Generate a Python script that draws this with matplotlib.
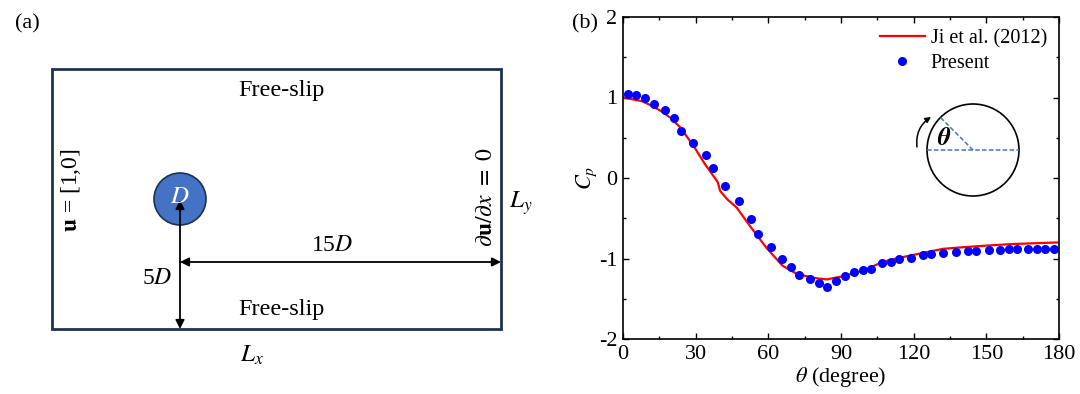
import numpy as np
import matplotlib
matplotlib.use('Agg')
import matplotlib.pyplot as plt
from matplotlib.patches import Rectangle, Circle, FancyArrowPatch

plt.rcParams['font.family'] = ['Liberation Serif', 'DejaVu Serif']
plt.rcParams['mathtext.fontset'] = 'stix'

# Ji et al. (2012) reference curve
ji_theta = [0, 7.8, 11.7, 15.8, 19.5, 23.6, 29.1, 33.9, 39.1, 40.1, 42.9, 47.0,
            52.5, 59.3, 65.9, 71.7, 78.6, 84.1, 90.9, 99.2, 107.4, 114.3, 123.9,
            132.1, 140.4, 150.0, 161.0, 180.0]
ji_cp = [1.00, 0.955, 0.90, 0.83, 0.75, 0.63, 0.40, 0.17, -0.05, -0.16, -0.26, -0.37,
         -0.60, -0.87, -1.09, -1.19, -1.24, -1.26, -1.22, -1.15, -1.04, -0.99, -0.93,
         -0.88, -0.86, -0.84, -0.82, -0.80]

# present simulation
pr_theta = [1.9, 5.5, 9.2, 12.8, 17.3, 20.9, 24.0, 29.1, 34.2, 37.2, 42.3, 47.7,
            52.7, 55.8, 61.0, 65.8, 69.2, 72.5, 77.2, 80.8, 84.3, 88.0, 91.8, 95.5,
            99.0, 102.5, 107.1, 110.7, 114.0, 119.0, 124.0, 127.2, 132.3, 137.6,
            142.6, 145.8, 151.0, 155.7, 159.2, 162.6, 167.3, 170.9, 174.3, 178.0]
pr_cp = [1.047, 1.03, 0.99, 0.92, 0.84, 0.74, 0.59, 0.44, 0.28, 0.13, -0.10, -0.28,
         -0.51, -0.70, -0.86, -1.00, -1.10, -1.20, -1.26, -1.30, -1.35, -1.28, -1.22,
         -1.17, -1.14, -1.13, -1.06, -1.04, -1.01, -0.99, -0.96, -0.95, -0.93, -0.92,
         -0.91, -0.91, -0.89, -0.90, -0.88, -0.88, -0.88, -0.88, -0.88, -0.88]

fig = plt.figure(figsize=(10.8, 3.94), dpi=100)

# ---- panel (b): pressure coefficient ----
ax = fig.add_axes([623 / 1080, 55 / 394, 436 / 1080, 322 / 394])
ax.plot(ji_theta, ji_cp, '-', color='#ff0000', lw=1.6, label='Ji et al. (2012)')
ax.plot(pr_theta, pr_cp, 'o', color='#0000ff', ms=6.5, mec='none', label='Present')
ax.set_xlim(0, 180)
ax.set_ylim(-2, 2)
ax.set_xticks(np.arange(0, 181, 30))
ax.set_xticks(np.arange(0, 181, 15), minor=True)
ax.set_yticks([-2, -1, 0, 1, 2])
ax.set_yticks(np.arange(-2, 2.01, 0.5), minor=True)
ax.set_yticklabels(['-2', '-1', '0', '1', '2'])
ax.tick_params(which='both', direction='in', top=True, right=True, labelsize=16, width=1)
ax.tick_params(which='major', length=4, pad=4)
ax.tick_params(which='minor', length=2.5)
for s in ax.spines.values():
    s.set_linewidth(1.2)
ax.set_xlabel(r'$\theta$ (degree)', fontsize=16, labelpad=1)
ax.set_ylabel(r'$C_p$', fontsize=16)
ax.yaxis.set_label_coords(-0.055, 0.5)
ax.legend(loc='upper right', frameon=False, fontsize=14.5, handlelength=2.2,
          handletextpad=0.3, borderaxespad=0.2, labelspacing=0.3)

# ---- overlay in pixel coordinates: panel (a) sketch and inset ----
ov = fig.add_axes([0, 0, 1, 1], zorder=5)
ov.set_xlim(0, 1080)
ov.set_ylim(394, 0)
ov.axis('off')
ov.patch.set_alpha(0)

ov.text(27, 24, '(a)', fontsize=16, ha='center', va='center')
ov.text(585, 24, '(b)', fontsize=16, ha='center', va='center')

ov.add_patch(Rectangle((52, 69), 449, 260, fill=False, ec='#1f3050', lw=2))
ov.add_patch(Circle((180, 199), 26, fc='#4472c4', ec='#1f3050', lw=1.2))
ov.text(180, 197, '$D$', color='white', fontsize=18, ha='center', va='center')

arr = dict(arrowstyle='-|>', mutation_scale=13, color='black', lw=1.3,
           shrinkA=0, shrinkB=0)
ov.add_patch(FancyArrowPatch((180, 262), (180, 329), **arr))
ov.add_patch(FancyArrowPatch((180, 262), (180, 200), **arr))
ov.add_patch(FancyArrowPatch((180, 262), (501, 262),
                             arrowstyle='<|-|>', mutation_scale=13, color='black',
                             lw=1.3, shrinkA=0, shrinkB=0))

ov.text(281, 90, 'Free-slip', fontsize=17.5, ha='center', va='center')
ov.text(281, 310, 'Free-slip', fontsize=17.5, ha='center', va='center')
ov.text(332, 245, '15$D$', fontsize=17, ha='center', va='center')
ov.text(157, 278, '5$D$', fontsize=17, ha='center', va='center')
ov.text(71, 190, r'$\mathbf{u}$ = [1,0]', fontsize=17, rotation=90, ha='center', va='center')
ov.text(487, 197, r'$\partial\mathbf{u}/\partial x\ =\ 0$', fontsize=17, rotation=90,
        ha='center', va='center')
ov.text(521, 203, '$L_y$', fontsize=18, ha='center', va='center')
ov.text(252, 355, '$L_x$', fontsize=18, ha='center', va='center')

# inset sketch of the cylinder angle
cx, cy, r = 973, 150, 46
ov.add_patch(Circle((cx, cy), r, fill=False, ec='black', lw=1.2))
dash = dict(color='#4472c4', lw=1.1, ls=(0, (3, 1.5)))
ov.plot([cx - r, cx + r], [cy, cy], **dash)
ang = np.deg2rad(135)
ov.plot([cx, cx + r * np.cos(ang)], [cy, cy - r * np.sin(ang)], **dash)
ov.text(944, 139, r'$\boldsymbol{\theta}$', fontsize=18, ha='center', va='center')
ov.add_patch(FancyArrowPatch((917, 147), (931, 117), arrowstyle='-|>',
                             mutation_scale=8, color='black', lw=1.1,
                             connectionstyle='arc3,rad=-0.3', shrinkA=0, shrinkB=0))

fig.savefig('out.png', dpi=100)
